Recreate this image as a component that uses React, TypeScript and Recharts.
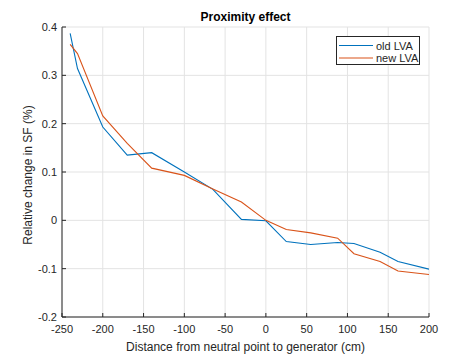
import React from 'react';
import { LineChart, Line, XAxis, YAxis, CartesianGrid } from 'recharts';

const distances = [-240, -231, -200, -170, -140, -100, -65, -30, 0, 25, 55, 88, 108, 140, 162, 200];
const oldLVA = [0.387, 0.314, 0.193, 0.135, 0.140, 0.100, 0.064, 0.002, -0.001, -0.044, -0.050, -0.046, -0.048, -0.066, -0.085, -0.101];
const newLVA = [0.364, 0.345, 0.216, 0.159, 0.108, 0.093, 0.065, 0.038, 0.000, -0.019, -0.026, -0.037, -0.069, -0.085, -0.105, -0.112];
const xTicks = [-250, -200, -150, -100, -50, 0, 50, 100, 150, 200];
const yTicks = [-0.2, -0.1, 0, 0.1, 0.2, 0.3, 0.4];
const seriesNames = ['old LVA', 'new LVA'];
const colors = ['#0072BD', '#D95319'];

const data = distances.map((d, i) => ({ d, oldLVA: oldLVA[i], newLVA: newLVA[i] }));

const FONT = '"Liberation Sans", Arial, Helvetica, sans-serif';
const AX = '#262626';

export default function App() {
  const tickStyle = { fontSize: 11, fill: AX, fontFamily: FONT };
  return (
    <div style={{ position: 'absolute', left: 0, top: 0, width: 474, height: 355, background: '#fff' }}>
      <LineChart
        width={474}
        height={355}
        data={data}
        margin={{ top: 27, right: 45, bottom: 0, left: 0 }}
      >
        <CartesianGrid stroke="#e3e3e3" strokeWidth={1} />
        <XAxis
          dataKey="d"
          type="number"
          domain={[-250, 200]}
          ticks={xTicks}
          allowDataOverflow
          height={38}
          tickSize={-4}
          tickMargin={12}
          stroke={AX}
          tick={tickStyle}
          interval={0}
        />
        <XAxis
          xAxisId="top"
          dataKey="d"
          type="number"
          orientation="top"
          domain={[-250, 200]}
          ticks={xTicks}
          allowDataOverflow
          height={0}
          tickSize={-4}
          tick={false}
          stroke={AX}
        />
        <YAxis
          type="number"
          domain={[-0.2, 0.4]}
          ticks={yTicks}
          allowDataOverflow
          width={62}
          tickSize={-4}
          tickMargin={9}
          stroke={AX}
          tick={tickStyle}
          interval={0}
        />
        <YAxis
          yAxisId="right"
          type="number"
          orientation="right"
          domain={[-0.2, 0.4]}
          ticks={yTicks}
          allowDataOverflow
          width={0}
          tickSize={-4}
          tick={false}
          stroke={AX}
        />
        <Line type="linear" dataKey="oldLVA" name={seriesNames[0]} stroke={colors[0]} strokeWidth={1.1} dot={false} isAnimationActive={false} />
        <Line type="linear" dataKey="newLVA" name={seriesNames[1]} stroke={colors[1]} strokeWidth={1.1} dot={false} isAnimationActive={false} />
      </LineChart>
      <svg width={474} height={355} style={{ position: 'absolute', left: 0, top: 0, pointerEvents: 'none' }}>
        <text x={245.5} y={21} textAnchor="middle" fontFamily={FONT} fontWeight="bold" fontSize={12} fill="#000">Proximity effect</text>
        <text x={245.5} y={351} textAnchor="middle" fontFamily={FONT} fontSize={12} fill={AX}>Distance from neutral point to generator (cm)</text>
        <text x={32} y={175} transform="rotate(-90 32 175)" textAnchor="middle" fontFamily={FONT} fontSize={12} fill={AX}>Relative change in SF (%)</text>
        <rect x={336.5} y={36.5} width={83} height={28} fill="#fff" stroke={AX} strokeWidth={1} />
        {seriesNames.map((n, i) => (
          <g key={n}>
            <line x1={339} x2={373} y1={45.5 + i * 12.5} y2={45.5 + i * 12.5} stroke={colors[i]} strokeWidth={1.1} />
            <text x={376} y={49.5 + i * 12.5} fontFamily={FONT} fontSize={11} fill={AX}>{n}</text>
          </g>
        ))}
      </svg>
    </div>
  );
}
